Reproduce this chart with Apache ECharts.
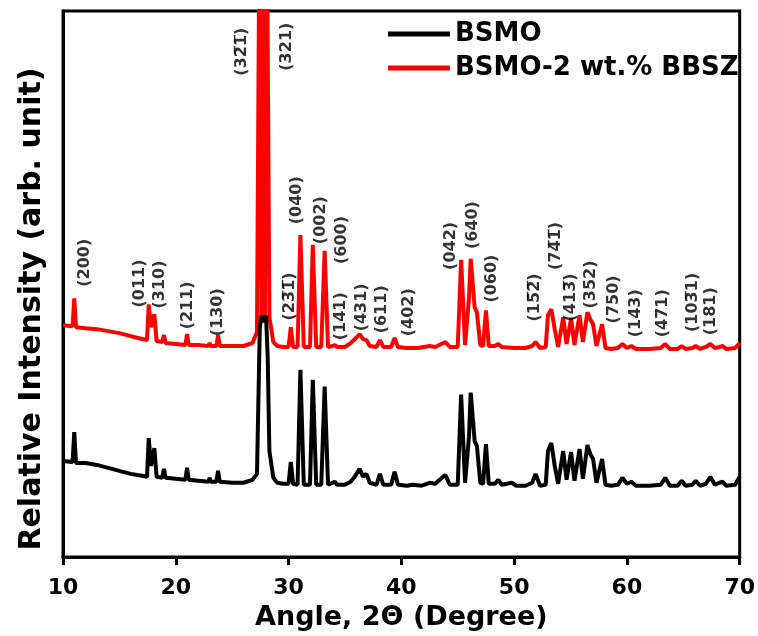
<!DOCTYPE html>
<html>
<head>
<meta charset="utf-8">
<script src="https://cdn.jsdelivr.net/npm/echarts@6/dist/echarts.min.js"></script>
<style>
  html, body { margin: 0; padding: 0; background: #fff; }
  #chart { width: 758px; height: 636px; }
</style>
</head>
<body>
<div id="chart"></div>
<script>
// XRD patterns, 2-theta (degree) vs. relative intensity (arb. unit)
const seriesNames = ['BSMO', 'BSMO-2 wt.% BBSZ'];

const bsmoAngle = [10.0,10.85,11.0,11.15,12.0,13.0,14.0,15.0,16.0,17.0,17.45,17.6,17.8,18.1,18.3,18.8,18.95,19.1,20.0,20.85,21.0,21.15,22.0,22.9,23.0,23.1,23.6,23.75,23.9,25.0,26.0,26.8,27.2,27.45,27.6,27.8,28.0,28.15,28.3,28.45,28.65,29.0,29.5,30.0,30.2,30.4,30.8,31.05,31.35,31.9,32.15,32.45,32.9,33.2,33.5,33.9,34.1,34.3,35.0,35.5,35.8,36.3,36.6,36.9,37.2,37.8,38.1,38.4,39.1,39.4,39.7,40.5,41.0,41.8,42.5,43.0,43.9,44.3,45.0,45.3,45.65,46.0,46.15,46.5,46.7,47.0,47.25,47.5,47.75,48.3,48.6,48.9,49.8,50.2,51.0,51.6,51.9,52.3,52.8,53.0,53.3,53.6,53.9,54.35,54.65,55.05,55.35,55.8,56.1,56.5,56.75,57.0,57.3,57.8,58.1,58.6,59.2,59.6,60.0,60.4,60.8,62.0,63.0,63.4,63.8,64.5,64.85,65.2,65.8,66.1,66.5,67.0,67.4,67.8,68.2,68.5,68.8,69.6,70.0];
const bsmoIntensity = [97,96,126,95,95,93,90,87,84,82,81,120,92,110,81,80,89,80,79,78,90,78,77,76,80,76,76,87,76,75,75,78,84,232,244,237,244,202,107,105,80,75,74,74,96,74,73,189,73,73,179,73,73,172,73,75,76,73,73,76,80,89,81,84,75,73,84,73,73,86,73,72,73,72,75,74,83,73,73,164,75,122,166,117,112,75,74,114,74,74,78,73,75,72,72,75,84,72,73,107,115,92,74,107,78,106,77,109,79,113,104,99,75,99,73,72,73,80,74,76,72,72,73,80,72,72,77,72,73,77,72,74,81,73,75,76,72,73,81];

// the (32-1)/(321) doublet saturates far above the frame in this pattern
const bbszAngle = [10.0,10.85,11.0,11.15,12.0,13.0,14.0,15.0,16.0,17.0,17.45,17.6,17.8,18.1,18.3,18.8,18.95,19.1,20.0,20.85,21.0,21.15,22.0,22.9,23.0,23.1,23.6,23.75,23.9,25.0,26.0,26.8,27.2,27.45,27.6,27.75,27.9,28.05,28.3,28.45,28.65,29.0,29.5,30.0,30.2,30.4,30.8,31.05,31.35,31.9,32.15,32.45,32.9,33.2,33.5,33.9,34.1,34.3,35.0,35.5,35.8,36.3,36.6,36.9,37.2,37.8,38.1,38.4,39.1,39.4,39.7,40.5,41.5,42.5,43.0,43.9,44.3,45.0,45.3,45.65,46.0,46.15,46.5,46.7,47.0,47.25,47.5,47.75,48.3,48.6,48.9,50.0,51.0,51.6,51.9,52.3,52.8,53.0,53.3,53.6,53.9,54.35,54.65,55.05,55.35,55.8,56.1,56.5,56.75,57.0,57.3,57.8,58.1,58.6,59.2,59.6,60.0,60.4,60.8,62.0,63.0,63.4,63.8,64.5,64.85,65.2,65.8,66.1,66.5,67.0,67.4,67.8,68.2,68.5,68.8,69.6,70.0];
const bbszIntensity = [234,233,261,232,231,230,228,226,223,220,219,255,232,245,218,217,224,216,215,214,225,214,214,213,216,213,213,224,213,213,213,216,227,700,240,700,240,700,242,240,217,213,212,212,232,212,212,325,212,212,315,212,212,309,212,213,214,212,212,216,219,225,220,219,213,212,219,212,212,221,212,211,211,213,212,217,212,212,300,214,262,301,252,247,214,213,249,213,213,215,212,211,211,213,217,211,212,244,250,230,212,242,215,241,214,244,217,247,240,235,213,235,211,210,211,215,211,213,210,210,211,215,210,210,213,210,211,213,210,212,215,211,212,213,210,211,216];

// Miller indices of the indexed reflections and where each label sits (angle, intensity)
const hklText = ['(200)','(011)','(310)','(211)','(130)','(32\u03051\u0305)','(321)','(23\u03051\u0305)','(040)','(002)','(600)','(141)','(431)','(611)','(402)','(042)','(640)','(060)','(15\u03052\u0305)','(74\u03051\u0305)','(413\u0305)','(352)','(750)','(143)','(471)','(103\u03051)','(181)'];
const hklAngle = [11.9,16.8,18.57,21.05,23.7,25.9,29.88,30.15,30.77,32.89,34.74,34.65,36.51,38.28,40.66,44.37,46.32,48.0,51.88,53.74,55.07,56.8,58.87,60.81,63.19,65.85,67.44];
const hklHeight = [297,276,275,254,247,510,515,263,360,340,320,243,252,250,247,314,335,281,262,314,262,275,260,246,246,257,248];

const xTicks = [10, 20, 30, 40, 50, 60, 70];

const FONT = 'DejaVu Sans';

function pairs(xs, ys) { return xs.map((x, i) => [x, ys[i]]); }

const chart = echarts.init(document.getElementById('chart'), null, { renderer: 'canvas' });

chart.setOption({
  animation: false,
  backgroundColor: '#fff',
  grid: { left: 63, right: 16, top: 11, bottom: 74, show: true, borderColor: '#000', borderWidth: 3, backgroundColor: 'transparent' },
  legend: {
    data: [
      { name: seriesNames[0], icon: 'rect', itemStyle: { color: '#000' } },
      { name: seriesNames[1], icon: 'rect', itemStyle: { color: '#ff0000' } }
    ],
    orient: 'vertical',
    left: 383,
    top: 16,
    itemWidth: 62,
    itemHeight: 5,
    itemGap: 8,
    textStyle: { fontFamily: FONT, fontWeight: 'bold', fontSize: 26, color: '#000' }
  },
  xAxis: {
    type: 'value',
    min: xTicks[0],
    max: xTicks[xTicks.length - 1],
    interval: 10,
    name: 'Angle, 2\u0398 (Degree)',
    nameLocation: 'middle',
    nameGap: 40,
    nameTextStyle: { fontFamily: FONT, fontWeight: 'bold', fontSize: 27, color: '#000' },
    axisLine: { show: true, onZero: false, lineStyle: { color: '#000', width: 3 } },
    axisTick: { show: true, inside: false, length: 8, lineStyle: { color: '#000', width: 3 } },
    axisLabel: { margin: 20, fontFamily: FONT, fontWeight: 'bold', fontSize: 22, color: '#000' },
    splitLine: { show: false }
  },
  yAxis: {
    type: 'value',
    min: 0,
    max: 551,
    name: 'Relative Intensity (arb. unit)',
    nameLocation: 'middle',
    nameGap: 16,
    nameTextStyle: { fontFamily: FONT, fontWeight: 'bold', fontSize: 30, color: '#000', padding: [0, 50, 0, 0] },
    axisLine: { show: true, onZero: false, lineStyle: { color: '#000', width: 3 } },
    axisTick: { show: false },
    axisLabel: { show: false },
    splitLine: { show: false }
  },
  series: [
    {
      name: seriesNames[1],
      type: 'line',
      data: pairs(bbszAngle, bbszIntensity),
      showSymbol: false,
      symbol: 'none',
      clip: true,
      lineStyle: { color: '#ff0000', width: 4 },
      itemStyle: { color: '#ff0000' },
      z: 2
    },
    {
      name: seriesNames[0],
      type: 'line',
      data: pairs(bsmoAngle, bsmoIntensity),
      showSymbol: false,
      symbol: 'none',
      clip: true,
      lineStyle: { color: '#000', width: 4 },
      itemStyle: { color: '#000' },
      z: 3
    },
    {
      name: 'hkl',
      type: 'scatter',
      silent: true,
      symbolSize: 0,
      data: hklText.map((t, i) => ({ name: t, value: [hklAngle[i], hklHeight[i]] })),
      label: {
        show: true,
        position: 'inside',
        rotate: 90,
        align: 'center',
        verticalAlign: 'middle',
        formatter: p => p.name,
        fontFamily: FONT,
        fontWeight: 'bold',
        fontSize: 16,
        color: '#000'
      },
      z: 5
    }
  ]
});
</script>
</body>
</html>
